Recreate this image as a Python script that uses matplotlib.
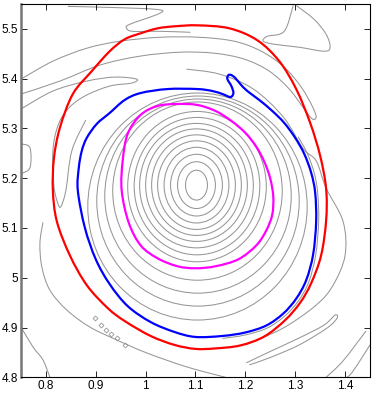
import matplotlib

matplotlib.use("Agg")

import matplotlib.pyplot as plt
import numpy as np
from matplotlib.patches import Ellipse, PathPatch
from matplotlib.path import Path

# closed coloured contours (x, y)
red_x = [1.104, 1.168, 1.224, 1.268, 1.302, 1.330, 1.350, 1.362, 1.362, 1.352, 1.332, 1.310,
         1.280, 1.238, 1.190, 1.140, 1.100, 1.058, 1.010, 0.958, 0.924, 0.882, 0.848,
         0.822, 0.814, 0.816, 0.828, 0.854, 0.892, 0.928, 0.958, 0.990, 1.024, 1.058]
red_y = [5.507, 5.501, 5.477, 5.435, 5.379, 5.311, 5.245, 5.179, 5.115, 5.045, 4.989, 4.950,
         4.915, 4.882, 4.864, 4.858, 4.857, 4.865, 4.883, 4.913, 4.939, 4.985, 5.045,
         5.113, 5.175, 5.239, 5.301, 5.369, 5.415, 5.455, 5.479, 5.491, 5.501, 5.505]

blue_x = [0.864, 0.866, 0.872, 0.882, 0.902, 0.928, 0.958, 0.990, 1.044, 1.104, 1.134, 1.154,
          1.170, 1.176, 1.172, 1.164, 1.166, 1.172, 1.180, 1.190, 1.204, 1.228, 1.254, 1.278,
          1.300, 1.318, 1.332, 1.340, 1.342, 1.336, 1.322, 1.302, 1.276, 1.242, 1.200, 1.154,
          1.100, 1.058, 1.010, 0.964, 0.928, 0.900, 0.878]
blue_y = [5.175, 5.221, 5.255, 5.281, 5.309, 5.331, 5.357, 5.371, 5.379, 5.379, 5.375, 5.369,
          5.363, 5.371, 5.385, 5.399, 5.407, 5.407, 5.401, 5.389, 5.375, 5.357, 5.335, 5.311,
          5.281, 5.249, 5.211, 5.171, 5.113, 5.047, 4.995, 4.958, 4.928, 4.904, 4.890, 4.883,
          4.881, 4.891, 4.911, 4.943, 4.987, 5.037, 5.101]

magenta_x = [0.952, 0.954, 0.964, 0.990, 1.024, 1.064, 1.104, 1.140, 1.172, 1.200, 1.222,
             1.238, 1.250, 1.256, 1.254, 1.242, 1.222, 1.186, 1.140, 1.100, 1.064, 1.024,
             0.990, 0.966]
magenta_y = [5.175, 5.235, 5.289, 5.327, 5.345, 5.349, 5.347, 5.335, 5.315, 5.291, 5.263,
             5.233, 5.199, 5.163, 5.127, 5.095, 5.065, 5.037, 5.023, 5.019, 5.023, 5.039,
             5.065, 5.111]

# nested grey contours read as ellipses: centre, half widths
ring_cx = [1.102, 1.102, 1.102, 1.102, 1.102, 1.102, 1.102, 1.102, 1.103, 1.103,
           1.104, 1.105, 1.105, 1.104]
ring_cy = [5.186, 5.186, 5.186, 5.186, 5.186, 5.186, 5.186, 5.185, 5.184, 5.183,
           5.174, 5.164, 5.154, 5.143]
ring_a = [0.022, 0.038, 0.052, 0.065, 0.078, 0.090, 0.102, 0.114, 0.126, 0.139,
          0.170, 0.187, 0.203, 0.220]
ring_b = [0.030, 0.047, 0.062, 0.076, 0.089, 0.101, 0.113, 0.125, 0.138, 0.151,
          0.179, 0.195, 0.211, 0.228]

# outer grey contour pieces
outer_lines = {
    "band_top_x": [0.750, 0.814, 0.882, 0.948, 1.028, 1.108, 1.178, 1.232, 1.278, 1.312, 1.334,
                   1.342, 1.334, 1.318, 1.288, 1.248, 1.198, 1.138, 1.068, 0.988, 0.908, 0.828, 0.750],
    "band_top_y": [5.399, 5.435, 5.461, 5.475, 5.483, 5.483, 5.475, 5.455, 5.423, 5.383, 5.345,
                   5.323, 5.319, 5.339, 5.379, 5.415, 5.439, 5.451, 5.453, 5.445, 5.427, 5.395, 5.369],
    "band_low_x": [0.750, 0.814, 0.882, 0.938, 0.982, 0.972, 0.928, 0.878, 0.844, 0.824, 0.814,
                   0.816, 0.824, 0.830, 0.840, 0.852, 0.880],
    "band_low_y": [5.339, 5.375, 5.395, 5.403, 5.399, 5.391, 5.385, 5.365, 5.339, 5.305, 5.255,
                   5.185, 5.149, 5.143, 5.175, 5.255, 5.317],
    "tongue_top_x": [0.844, 0.928, 1.022, 1.028, 0.968, 0.962, 0.974, 1.030, 1.090],
    "tongue_top_y": [5.545, 5.543, 5.539, 5.531, 5.509, 5.501, 5.495, 5.495, 5.493],
    "tongue_tr_x": [1.302, 1.338, 1.362, 1.370, 1.358, 1.308, 1.258, 1.236, 1.244, 1.278, 1.296],
    "tongue_tr_y": [5.547, 5.519, 5.489, 5.463, 5.455, 5.463, 5.469, 5.475, 5.485, 5.495, 5.547],
    "tongue_br_x": [1.202, 1.248, 1.308, 1.358, 1.380, 1.384, 1.364, 1.308, 1.248, 1.208],
    "tongue_br_y": [4.829, 4.851, 4.879, 4.905, 4.925, 4.919, 4.899, 4.865, 4.839, 4.825],
    "left_bump_x": [0.750, 0.768, 0.768, 0.750],
    "left_bump_y": [5.269, 5.261, 5.221, 5.209],
    "low_left_x": [0.794, 0.788, 0.792, 0.808, 0.842, 0.888, 0.942, 1.002, 1.082, 1.160],
    "low_left_y": [5.111, 5.069, 5.021, 4.975, 4.935, 4.901, 4.875, 4.849, 4.821, 4.800],
    "corner_x": [0.750, 0.774, 0.794, 0.808],
    "corner_y": [4.901, 4.861, 4.835, 4.800],
    "right_out_x": [1.082, 1.148, 1.216, 1.276, 1.316, 1.342, 1.362, 1.396, 1.400, 1.376,
                    1.342, 1.276, 1.200],
    "right_out_y": [5.419, 5.409, 5.379, 5.323, 5.259, 5.235, 5.180, 5.113, 5.045, 4.985,
                    4.945, 4.899, 4.865],
    "halo_x": [1.306, 1.324, 1.338, 1.345, 1.347, 1.341, 1.327, 1.306, 1.279, 1.244, 1.200, 1.154],
    "halo_y": [5.283, 5.250, 5.211, 5.171, 5.113, 5.045, 4.991, 4.953, 4.923, 4.899, 4.885, 4.878],
    "br1_x": [1.442, 1.396, 1.362],
    "br1_y": [4.893, 4.833, 4.800],
    "br2_x": [1.450, 1.410, 1.390],
    "br2_y": [4.865, 4.805, 4.800],
}
outer_names = ["band_top", "band_low", "tongue_top", "tongue_tr", "tongue_br", "left_bump",
               "low_left", "corner", "right_out", "halo", "br1", "br2"]

# small closed contours at lower left
blob_x = [0.898, 0.910, 0.920, 0.930, 0.942, 0.958]
blob_y = [4.919, 4.905, 4.895, 4.887, 4.879, 4.865]

grey = "#969696"


def smooth_path(xs, ys, closed):
    # Catmull-Rom through the read points, handed to matplotlib as cubic Beziers
    pts = np.column_stack([xs, ys]).astype(float)
    if closed:
        ext = np.vstack([pts[-1:], pts, pts[:2]])
    else:
        ext = np.vstack([pts[:1], pts, pts[-1:]])
    verts = [ext[1]]
    codes = [Path.MOVETO]
    n_seg = len(pts) if closed else len(pts) - 1
    for i in range(n_seg):
        p0, p1, p2, p3 = ext[i], ext[i + 1], ext[i + 2], ext[i + 3]
        verts += [p1 + (p2 - p0) / 6, p2 - (p3 - p1) / 6, p2]
        codes += [Path.CURVE4] * 3
    return Path(verts, codes)


def draw_curve(ax, xs, ys, colour, width, closed):
    ax.add_patch(PathPatch(smooth_path(xs, ys, closed), fill=False,
                           edgecolor=colour, linewidth=width))


fig = plt.figure(figsize=(3.74, 3.93), dpi=100)
ax = fig.add_axes([0.0561, 0.040, 0.9332, 0.950])

for cx, cy, a, b in zip(ring_cx, ring_cy, ring_a, ring_b):
    ax.add_patch(Ellipse((cx, cy), 2 * a, 2 * b, fill=False, edgecolor=grey, linewidth=0.75))

for name in outer_names:
    draw_curve(ax, outer_lines[name + "_x"], outer_lines[name + "_y"], grey, 0.75, False)

ax.plot(blob_x, blob_y, linestyle="none", marker="D", markersize=2.5,
        markerfacecolor="none", markeredgecolor=grey, markeredgewidth=0.6)

draw_curve(ax, red_x, red_y, "#ff0000", 1.6, True)
draw_curve(ax, blue_x, blue_y, "#0000ff", 1.6, True)
draw_curve(ax, magenta_x, magenta_y, "#ff00ff", 1.6, True)

ax.set_xlim(0.75, 1.45)
ax.set_ylim(4.8, 5.55)
ax.set_xticks([0.8, 0.9, 1.0, 1.1, 1.2, 1.3, 1.4])
ax.set_xticklabels(["0.8", "0.9", "1", "1.1", "1.2", "1.3", "1.4"])
ax.set_yticks([4.8, 4.9, 5.0, 5.1, 5.2, 5.3, 5.4, 5.5])
ax.set_yticklabels(["4.8", "4.9", "5", "5.1", "5.2", "5.3", "5.4", "5.5"])
ax.tick_params(direction="in", top=True, right=True, length=4, width=0.6,
               labelsize=8.5, pad=2)
for label in ax.get_xticklabels() + ax.get_yticklabels():
    label.set_family("Liberation Sans")
for side in ["top", "right", "bottom"]:
    ax.spines[side].set_linewidth(0.8)
ax.spines["left"].set_linewidth(1.8)
ax.spines["left"].set_color("#777777")

fig.savefig("out.png", dpi=100)
